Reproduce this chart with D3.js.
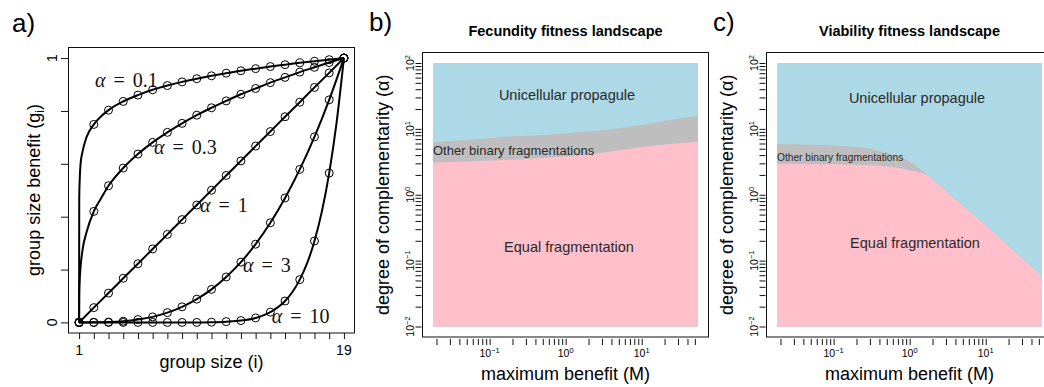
<!DOCTYPE html>
<html>
<head>
<meta charset="utf-8">
<script src="https://cdn.jsdelivr.net/npm/d3@7"></script>
<style>
body { margin: 0; background: #fff; }
svg { display: block; font-family: "Liberation Sans", Arial, Helvetica, sans-serif; }
</style>
</head>
<body>
<svg id="chart" width="1044" height="387"></svg>
<script>
// ---- panel a: group size benefit curves ----
var groupSizes = [1,2,3,4,5,6,7,8,9,10,11,12,13,14,15,16,17,18,19];
var alphaNames = ["0.1", "0.3", "1", "3", "10"];
var gAlpha01 = [0,0.749,0.803,0.836,0.860,0.880,0.896,0.910,0.922,0.933,0.943,0.952,0.960,0.968,0.975,0.982,0.988,0.994,1];
var gAlpha03 = [0,0.420,0.517,0.584,0.637,0.681,0.719,0.753,0.784,0.812,0.838,0.863,0.885,0.907,0.927,0.947,0.965,0.983,1];
var gAlpha1  = [0,0.056,0.111,0.167,0.222,0.278,0.333,0.389,0.444,0.500,0.556,0.611,0.667,0.722,0.778,0.833,0.889,0.944,1];
var gAlpha3  = [0,0.0002,0.0014,0.0046,0.011,0.021,0.037,0.059,0.088,0.125,0.172,0.228,0.296,0.377,0.471,0.579,0.702,0.842,1];
var gAlpha10 = [0,0,0,0,0,0,0,0,0,0.001,0.003,0.007,0.017,0.039,0.081,0.162,0.308,0.565,1];
var startI = [1.01, 1.05, 1.1, 1.25, 1.5, 2.5];
var lineStart01 = [0.47, 0.55, 0.60, 0.65, 0.70, 0.78];
var lineStart03 = [0.11, 0.17, 0.21, 0.28, 0.34, 0.47];
var tailI = [15.5, 16.5, 17.5, 18.5];
var lineTail10 = [0.115, 0.224, 0.419, 0.755];
var aYTicks = [0, 0.2, 0.4, 0.6, 0.8, 1];
var aXLabels = [1, 19];
var aYLabels = [0, 1];

// ---- panels b and c: fitness landscapes ----
var mDomain = [0.018, 55];
var alphaDomain = [0.01, 100];
var fecM     = [0.018, 0.05, 0.1, 0.2, 0.5, 1, 2, 5, 10, 20, 55];
var fecUpper = [6.2, 6.8, 7.2, 7.7, 8.1, 8.6, 9.1, 10.2, 11.5, 13.2, 15.8];
var fecLower = [3.1, 3.2, 3.3, 3.4, 3.6, 3.8, 4.1, 4.7, 5.3, 5.8, 6.4];
var viaM     = [0.018, 0.05, 0.1, 0.2, 0.3, 0.5, 0.7, 1, 1.3, 1.7, 2, 3, 5, 10, 20, 55];
var viaUpper = [5.9, 5.75, 5.6, 5.3, 5.0, 4.3, 3.9, 3.2, 2.6, 2.0, 1.7, 1.13, 0.68, 0.34, 0.166, 0.0575];
var viaLower = [2.96, 2.93, 2.9, 2.85, 2.8, 2.68, 2.57, 2.35, 2.2, 2.0, 1.7, 1.13, 0.68, 0.34, 0.166, 0.0575];
var xLabelExps = [-1, 0, 1];
var yLabelExps = [-2, -1, 0, 1, 2];

var svg = d3.select("#chart");

// ================= panel a =================
var ax = d3.scaleLinear().domain([0.28, 19.72]).range([68.5, 354.5]);
var ay = d3.scaleLinear().domain([-0.04, 1.04]).range([333, 47.5]);

svg.append("text").attr("x", 12).attr("y", 32).style("font-size", "26px").text("a)");

var pa = svg.append("g");
pa.append("rect").attr("x", 68.5).attr("y", 47.5).attr("width", 286).attr("height", 285.5)
  .style("fill", "none").style("stroke", "#111").style("stroke-width", 1);

var axA = pa.append("g").attr("transform", "translate(0,333)")
  .call(d3.axisBottom(ax).tickValues(groupSizes).tickSize(6).tickFormat(""));
axA.select(".domain").remove();
axA.selectAll("line").style("stroke", "#111");

var ayA = pa.append("g").attr("transform", "translate(68.5,0)")
  .call(d3.axisLeft(ay).tickValues(aYTicks).tickSize(7.5).tickFormat(""));
ayA.select(".domain").remove();
ayA.selectAll("line").style("stroke", "#111");

pa.selectAll(".xlab").data(aXLabels).enter().append("text")
  .attr("x", function(d) { return ax(d); }).attr("y", 355)
  .attr("text-anchor", "middle").style("font-size", "14px").text(function(d) { return d; });
pa.selectAll(".ylab").data(aYLabels).enter().append("text")
  .attr("transform", function(d) { return "translate(57," + ay(d) + ") rotate(-90)"; })
  .attr("text-anchor", "middle").style("font-size", "14px").text(function(d) { return d; });

pa.append("text").attr("x", 211.5).attr("y", 368).attr("text-anchor", "middle")
  .style("font-size", "18px").text("group size (i)");
var yt = pa.append("text").attr("transform", "translate(40,190) rotate(-90)")
  .attr("text-anchor", "middle").style("font-size", "18px");
yt.append("tspan").text("group size benefit (g");
yt.append("tspan").attr("dy", 4).style("font-size", "12px").text("i");
yt.append("tspan").attr("dy", -4).text(")");

var seriesA = [gAlpha01, gAlpha03, gAlpha1, gAlpha3, gAlpha10];
var lineA = d3.line().x(function(d) { return ax(d[0]); }).y(function(d) { return ay(d[1]); })
  .curve(d3.curveMonotoneX);

seriesA.forEach(function(vals, k) {
  var pts = groupSizes.map(function(i, j) { return [i, vals[j]]; });
  if (k == 0) pts = pts.concat(startI.map(function(i, j) { return [i, lineStart01[j]]; }));
  if (k == 1) pts = pts.concat(startI.map(function(i, j) { return [i, lineStart03[j]]; }));
  if (k == 4) pts = pts.concat(tailI.map(function(i, j) { return [i, lineTail10[j]]; }));
  pts.sort(function(p, q) { return p[0] - q[0]; });
  pa.append("path").datum(pts).attr("d", lineA)
    .style("fill", "none").style("stroke", "#000").style("stroke-width", 2);
  pa.selectAll(".c" + k).data(groupSizes).enter().append("circle")
    .attr("cx", function(d) { return ax(d); })
    .attr("cy", function(d, j) { return ay(vals[j]); })
    .attr("r", 4).style("fill", "none").style("stroke", "#000").style("stroke-width", 1);
});

// alpha labels, placed in data coordinates
var labelSpots = [[2.08, 0.918], [6.09, 0.665], [9.22, 0.445], [12.14, 0.218], [14.1, 0.025]];
alphaNames.forEach(function(name, k) {
  var t = pa.append("text").attr("x", ax(labelSpots[k][0])).attr("y", ay(labelSpots[k][1]))
    .attr("dy", "0.35em")
    .style("font-family", "'Liberation Serif', 'DejaVu Serif', serif")
    .style("font-size", "20px").style("word-spacing", "3px").style("fill", "#111");
  t.append("tspan").style("font-style", "italic").text("α");
  t.append("tspan").text(" = " + name);
});

// ================= panels b, c =================
function drawLandscape(left, tag, title, mVals, upVals, lowVals, opts) {
  var x0 = left + 0.5, x1 = left + 286.5, y0 = 52.5, y1 = 337;
  var x = d3.scaleLog().domain(mDomain).range([x0 + 10.5, x1 - 10.5]);
  var y = d3.scaleLog().domain(alphaDomain).range([y1 - 10.5, y0 + 10.5]);
  var g = svg.append("g");

  g.append("text").attr("x", left - 53).attr("y", 31).style("font-size", "26px").text(tag);
  g.append("text").attr("x", (x0 + x1) / 2).attr("y", 36).attr("text-anchor", "middle")
    .style("font-size", "14.5px").style("font-weight", "bold").text(title);

  var data = mVals.map(function(m, j) { return { m: m, up: upVals[j], low: lowVals[j] }; });

  g.append("rect").attr("x", x(mDomain[0])).attr("y", y(alphaDomain[1]))
    .attr("width", x(mDomain[1]) - x(mDomain[0])).attr("height", y(alphaDomain[0]) - y(alphaDomain[1]))
    .style("fill", "#ADD8E6");
  g.append("path").datum(data)
    .attr("d", d3.area().x(function(d) { return x(d.m); }).y0(y(alphaDomain[0]))
      .y1(function(d) { return y(d.up); }).curve(d3.curveMonotoneX))
    .style("fill", "#BEBEBE");
  g.append("path").datum(data)
    .attr("d", d3.area().x(function(d) { return x(d.m); }).y0(y(alphaDomain[0]))
      .y1(function(d) { return y(d.low); }).curve(d3.curveMonotoneX))
    .style("fill", "#FFC0CB");

  g.append("rect").attr("x", x0).attr("y", y0).attr("width", x1 - x0).attr("height", y1 - y0)
    .style("fill", "none").style("stroke", "#111").style("stroke-width", 1);

  var xa = g.append("g").attr("transform", "translate(0,339)")
    .call(d3.axisBottom(x).tickValues(x.ticks()).tickSize(6).tickFormat(""));
  xa.select(".domain").remove();
  xa.selectAll("line").style("stroke", "#111");
  var ya = g.append("g").attr("transform", "translate(" + (x0 - 1) + ",0)")
    .call(d3.axisLeft(y).tickValues(y.ticks()).tickSize(6).tickFormat(""));
  ya.select(".domain").remove();
  ya.selectAll("line").style("stroke", "#111");

  xLabelExps.forEach(function(e) {
    var t = g.append("text").attr("x", x(Math.pow(10, e))).attr("y", 357)
      .attr("text-anchor", "middle").style("font-size", "10.5px");
    t.append("tspan").text("10");
    t.append("tspan").attr("dy", -4.5).style("font-size", "7.5px").text(e < 0 ? "\u2212" + (-e) : e);
  });
  yLabelExps.forEach(function(e) {
    var t = g.append("text")
      .attr("transform", "translate(" + (x0 - 8.5) + "," + y(Math.pow(10, e)) + ") rotate(-90)")
      .attr("text-anchor", "middle").style("font-size", "10.5px");
    t.append("tspan").text("10");
    t.append("tspan").attr("dy", -4.5).style("font-size", "7.5px").text(e < 0 ? "\u2212" + (-e) : e);
  });

  g.append("text").attr("x", (x0 + x1) / 2).attr("y", 380).attr("text-anchor", "middle")
    .style("font-size", "18px").text("maximum benefit (M)");
  g.append("text").attr("transform", "translate(" + (x0 - 33.5) + "," + ((y0 + y1) / 2) + ") rotate(-90)")
    .attr("text-anchor", "middle").style("font-size", "18px").text("degree of complementarity (α)");

  g.append("text").attr("x", opts.uniX).attr("y", opts.uniY).attr("dy", "0.35em")
    .attr("text-anchor", "middle").style("font-size", "14.5px").style("fill", "#2a2a2a")
    .text("Unicellular propagule");
  g.append("text").attr("x", opts.eqX).attr("y", opts.eqY).attr("dy", "0.35em")
    .attr("text-anchor", "middle").style("font-size", "14.5px").style("fill", "#2a2a2a")
    .text("Equal fragmentation");
  g.append("text").attr("x", x(mDomain[0])).attr("y", opts.otherY).attr("dy", "0.35em")
    .style("font-size", opts.otherSize).style("fill", "#2a2a2a")
    .text("Other binary fragmentations");
}

drawLandscape(422, "b)", "Fecundity fitness landscape", fecM, fecUpper, fecLower,
  { uniX: 567, uniY: 95, eqX: 569, eqY: 247, otherY: 150, otherSize: "13px" });
drawLandscape(766, "c)", "Viability fitness landscape", viaM, viaUpper, viaLower,
  { uniX: 917, uniY: 98, eqX: 915, eqY: 243, otherY: 157, otherSize: "10.2px" });
</script>
</body>
</html>
